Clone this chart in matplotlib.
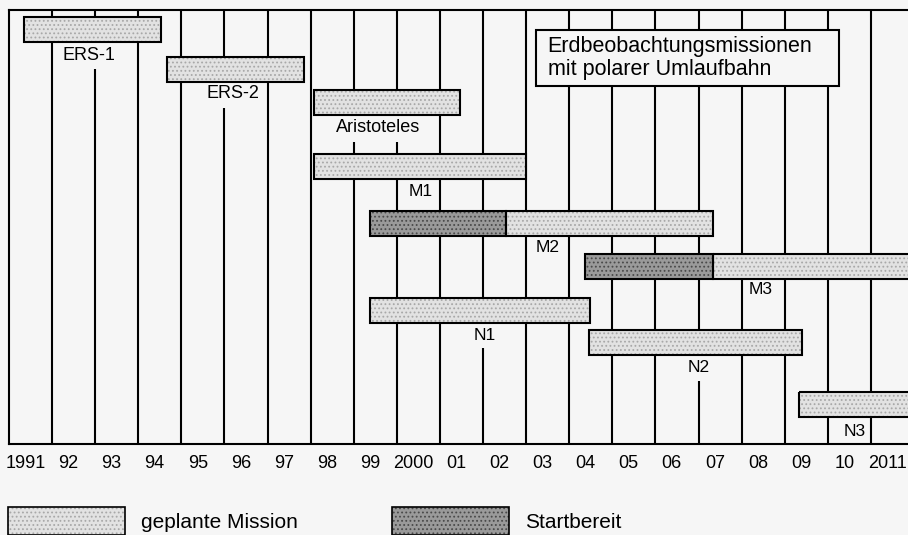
import matplotlib.pyplot as plt
from matplotlib.patches import Patch, Rectangle
from matplotlib.legend_handler import HandlerTuple

# mission data (years)
missions = ["ERS-1", "ERS-2", "Aristoteles", "M1", "M2", "M3", "N1", "N2", "N3"]
ready_start = [None, None, None, None, 1999.38, 2004.36, None, None, None]
plan_start = [1991.35, 1994.67, 1998.08, 1998.08, 2002.53, 2007.33, 1999.38, 2004.46, 2009.33]
plan_end = [1994.53, 1997.84, 2001.46, 2003.0, 2007.33, 2012.5, 2004.48, 2009.4, 2012.5]
label_x = [1992.86, 1996.2, 1999.56, 2000.56, 2003.5, 2008.45, 2002.04, 2007.0, 2010.63]

years = list(range(1991, 2012))
year_labels = ["1991", "92", "93", "94", "95", "96", "97", "98", "99", "2000",
               "01", "02", "03", "04", "05", "06", "07", "08", "09", "10", "2011"]

title = "Erdbeobachtungsmissionen\nmit polarer Umlaufbahn"
legend_labels = ["geplante Mission", "Startbereit"]

# layout (pixel rows from top of the frame)
row_y = [29, 69, 102.5, 166.5, 223.5, 266, 310, 342.5, 404]
label_y = [55, 94, 128, 192, 248, 290, 335, 368, 432]
masked = [True, True, True, False, False, False, True, True, False]
bar_h = 25

bg = "#f6f6f6"
light, light_dots = "#e2e2e2", "#a8a8a8"
dark, dark_dots = "#9a9a9a", "#4a4a4a"
fam = ["Liberation Sans", "DejaVu Sans"]
plt.rcParams["hatch.linewidth"] = 0.8


def stipple_bar(ax, y, left, width, fc, dots):
    ax.barh(y, width, left=left, height=bar_h, color=fc, hatch="....",
            edgecolor=dots, linewidth=0, zorder=3)
    ax.barh(y, width, left=left, height=bar_h, fill=False,
            edgecolor="black", linewidth=1.5, zorder=4)


fig = plt.figure(figsize=(9.08, 5.35), dpi=100, facecolor=bg)
ax = fig.add_axes([9 / 908, (535 - 444) / 535, 899 / 908, 434 / 535])
ax.set_facecolor(bg)
ax.set_xlim(1991, 2011.86)
ax.set_ylim(444, 10)

for y in years[1:]:
    ax.axvline(y, color="black", lw=1.5, zorder=1)

ax.spines["right"].set_visible(False)
for sp in ["left", "top", "bottom"]:
    ax.spines[sp].set_linewidth(1.5)

for i, name in enumerate(missions):
    stipple_bar(ax, row_y[i], plan_start[i], plan_end[i] - plan_start[i], light, light_dots)
    if ready_start[i] is not None:
        stipple_bar(ax, row_y[i], ready_start[i], plan_start[i] - ready_start[i], dark, dark_dots)
    big = name.startswith(("ERS", "Ari"))
    box = dict(boxstyle="square,pad=0.3", fc=bg, ec="none") if masked[i] else None
    ax.text(label_x[i], label_y[i], name, ha="center", va="center",
            fontsize=13 if big else 12.5, family=fam, zorder=2, bbox=box)

# title box
ax.add_patch(Rectangle((2003.23, 30), 7.03, 56, fc=bg, ec="black", lw=1.5, zorder=5))
ax.text(2003.5, 58, title, ha="left", va="center", fontsize=15.5,
        family=fam, linespacing=1.15, zorder=6)

ax.set_yticks([])
ax.set_xticks([y + 0.38 for y in years])
ax.set_xticklabels(year_labels, family=fam, fontsize=13)
ax.tick_params(axis="x", length=0, pad=8)

handles = [(Patch(facecolor=light, hatch="....", edgecolor=light_dots, lw=0),
            Patch(fill=False, edgecolor="black", lw=1.2)),
           (Patch(facecolor=dark, hatch="....", edgecolor=dark_dots, lw=0),
            Patch(fill=False, edgecolor="black", lw=1.2))]
fig.legend(handles, legend_labels, loc="upper left",
           bbox_to_anchor=(8 / 908, 1 - 507 / 535), ncol=2, frameon=False,
           prop={"family": fam, "size": 15}, handlelength=5.6,
           handleheight=1.7, handletextpad=0.8, columnspacing=4.5,
           borderpad=0, borderaxespad=0,
           handler_map={tuple: HandlerTuple(ndivide=1, pad=0)})

fig.savefig("out.png", dpi=100, facecolor=bg)
